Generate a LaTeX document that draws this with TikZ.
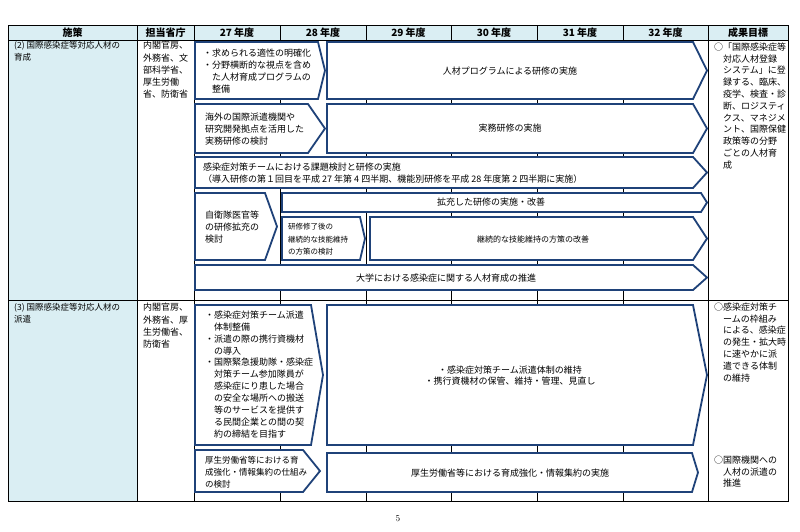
\documentclass[tikz,border=0pt]{standalone}
\usepackage{fontspec}
\usepackage{tikz}
\usetikzlibrary{positioning}
\newfontfamily\cjk{Noto Sans CJK JP}
\definecolor{navy}{HTML}{1F4279}
\definecolor{hdrblue}{HTML}{DAEEF3}

\begin{document}
\begin{tikzpicture}[x=1pt,y=-1pt,
        stepbox/.style={draw=navy,line width=1.8pt,fill=white,line join=miter},
        grid/.style={line width=0.8pt},
        hdr/.style={font=\cjk\bfseries\fontsize{10}{12}\selectfont},
        txt/.style={font=\cjk\fontsize{9}{12}\selectfont,align=left,anchor=north west,inner sep=0pt},
        mid/.style={font=\cjk\fontsize{9}{11}\selectfont,align=center,inner sep=0pt},
        goal/.style={font=\cjk\fontsize{9}{11.8}\selectfont,align=left,anchor=north west,inner sep=0pt}]
        \useasboundingbox[fill=white] (0,0) rectangle (800,531);
        % table
        \fill[hdrblue] (8,25) rectangle (788,40);
        \fill[hdrblue] (8,40) rectangle (137,501);
        \foreach \x in {137,194,280,366,451,537,623,708}
            \draw[grid] (\x,25) -- (\x,501);
        \draw[grid] (8,40) -- (788,40);
        \draw[grid] (8,300) -- (788,300);
        \draw[line width=1pt] (8,25) rectangle (788,501);
        % header row
        \node[hdr] (hpolicy) at (72.5,32.5) {施策};
        \node[hdr] (hoffice) at (165.5,32.5) {担当省庁};
        \foreach \yr/\xa/\xb in {27/194/280,28/280/366,29/366/451,30/451/537,31/537/623,32/623/708}
            \node[hdr] (hy\yr) at ({(\xa+\xb)/2},32.5) {\yr\ 年度};
        \node[hdr] (hgoal) at (748,32.5) {成果目標};
        % arrow boxes
        \foreach \xa/\ya/\yb/\xb/\xc in {195/42/99/318/325, 327/42/99/693/707,
                195/104/153/308/325, 327/104/153/693/707, 195/157/188/693/707,
                195/193/260/265/277, 282/193/212/701/707, 282/217/260/360/365,
                370/217/260/693/707, 195/265/290/693/707,
                195/305/445/311/323, 327/305/445/693/707,
                195/450/492/303/320, 327/453/492/692/698}
            \draw[stepbox] (\xa,\ya) -- (\xb,\ya) -- (\xc,{(\ya+\yb)/2}) -- (\xb,\yb) -- (\xa,\yb) -- cycle;
        % row (2)
        \node[txt,font=\cjk\fontsize{8.5}{12.5}\selectfont] (pol2) at (14,41) {(2) 国際感染症等対応人材の\\育成};
        \node[txt,font=\cjk\fontsize{9}{12.3}\selectfont] (off2) at (143,41) {内閣官房、\\外務省、文\\部科学省、\\厚生労働\\省、防衛省};
        \node[txt] (tA) at (203,48.5) {・求められる適性の明確化\\・分野横断的な視点を含め\\　た人材育成プログラムの\\　整備};
        \node[mid] (tB) at (510,71) {人材プログラムによる研修の実施};
        \node[txt] (tC) at (205,112.5) {海外の国際派遣機関や\\研究開発拠点を活用した\\実務研修の検討};
        \node[mid] (tD) at (510,128) {実務研修の実施};
        \node[txt] (tE) at (203,162.5) {感染症対策チームにおける課題検討と研修の実施\\（導入研修の第１回目を平成 27 年第 4 四半期、機能別研修を平成 28 年度第 2 四半期に実施）};
        \node[txt] (tF) at (205,210.5) {自衛隊医官等\\の研修拡充の\\検討};
        \node[mid] (tG) at (491,202.5) {拡充した研修の実施・改善};
        \node[txt,font=\cjk\fontsize{7.5}{12.5}\selectfont] (tH) at (288,223) {研修修了後の\\継続的な技能維持\\の方策の検討};
        \node[mid,font=\cjk\fontsize{8}{10}\selectfont] (tI) at (533,239) {継続的な技能維持の方策の改善};
        \node[mid] (tJ) at (446,278) {大学における感染症に関する人材育成の推進};
        \node[goal] (g2) at (714,42.5) {○「国際感染症等\\　対応人材登録\\　システム」に登\\　録する、臨床、\\　疫学、検査・診\\　断、ロジスティ\\　クス、マネジメ\\　ント、国際保健\\　政策等の分野\\　ごとの人材育\\　成};
        % row (3)
        \node[txt,font=\cjk\fontsize{8.5}{12.5}\selectfont] (pol3) at (14,303) {(3) 国際感染症等対応人材の\\派遣};
        \node[txt,font=\cjk\fontsize{9}{12.3}\selectfont] (off3) at (143,303) {内閣官房、\\外務省、厚\\生労働省、\\防衛省};
        \node[txt,font=\cjk\fontsize{9}{11.9}\selectfont] (tK) at (205,310.5) {・感染症対策チーム派遣\\　体制整備\\・派遣の際の携行資機材\\　の導入\\・国際緊急援助隊・感染症\\　対策チーム参加隊員が\\　感染症にり患した場合\\　の安全な場所への搬送\\　等のサービスを提供す\\　る民間企業との間の契\\　約の締結を目指す};
        \node[mid] (tL) at (510,375.5) {・感染症対策チーム派遣体制の維持\\・携行資機材の保管、維持・管理、見直し};
        \node[txt,font=\cjk\fontsize{8.5}{12}\selectfont] (tM) at (205,456) {厚生労働省等における育\\成強化・情報集約の仕組み\\の検討};
        \node[mid] (tN) at (510,473) {厚生労働省等における育成強化・情報集約の実施};
        \node[goal] (g3a) at (714,302.5) {○感染症対策チ\\　ームの枠組み\\　による、感染症\\　の発生・拡大時\\　に速やかに派\\　遣できる体制\\　の維持};
        \node[goal] (g3b) at (714,455.5) {○国際機関への\\　人材の派遣の\\　推進};
        % page number
        \node[font=\fontsize{9}{10}\selectfont] (pg) at (398,519) {5};
    \end{tikzpicture}
\end{document}
